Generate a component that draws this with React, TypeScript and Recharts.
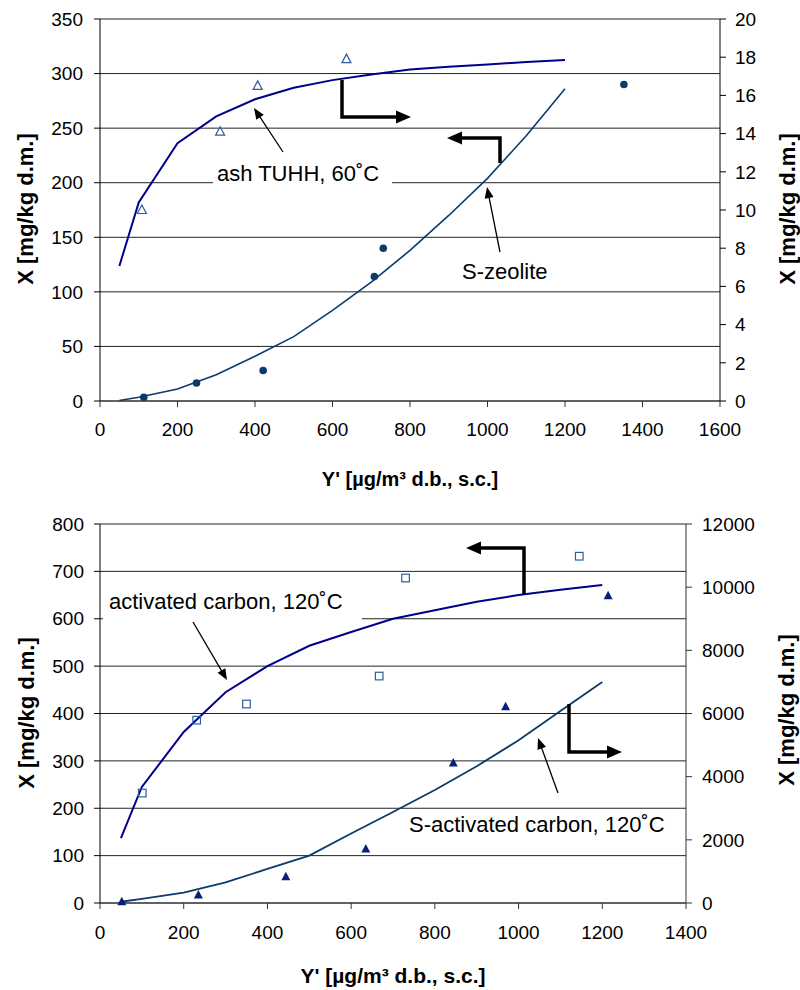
import { ComposedChart, Line, Scatter, XAxis, YAxis, CartesianGrid } from 'recharts'

const FONT = 'Liberation Sans, Arial, sans-serif'

// ---- top chart: ash TUHH 60°C (right axis), S-zeolite (left axis)
const fitX = [50, 100, 200, 300, 400, 500, 600, 700, 800, 900, 1000, 1100, 1200]
const ashFitY = [7.07, 10.4, 13.5, 14.9, 15.8, 16.4, 16.8, 17.1, 17.35, 17.5, 17.62, 17.75, 17.85]
const ashMeasX = [108, 310, 407, 636]
const ashMeasY = [10.0, 14.1, 16.5, 17.9]
const zeoFitY = [0.5, 3.5, 11, 24, 41, 59, 83, 109, 138, 170, 204, 243, 286]
const zeoMeasX = [113, 249, 421, 708, 731, 1352]
const zeoMeasY = [3.5, 16.5, 28, 114, 140, 290]

const topXTicks = [0, 200, 400, 600, 800, 1000, 1200, 1400, 1600]
const topLeftTicks = [0, 50, 100, 150, 200, 250, 300, 350]
const topRightTicks = [0, 2, 4, 6, 8, 10, 12, 14, 16, 18, 20]

// ---- bottom chart: activated carbon (left axis), S-activated carbon (right axis)
const acFitY = [137, 245, 361, 445, 500, 543, 572, 600, 618, 636, 650, 661, 671]
const acMeasX = [101, 231, 350, 667, 730, 1145]
const acMeasY = [232, 386, 420, 479, 686, 732]
const sacFitY = [40, 130, 330, 650, 1080, 1500, 2200, 2880, 3580, 4330, 5150, 6080, 7000]
const sacMeasX = [52, 235, 444, 635, 844, 969, 1214]
const sacMeasY = [41, 253, 833, 1710, 4430, 6215, 9730]

const botXTicks = [0, 200, 400, 600, 800, 1000, 1200, 1400]
const botLeftTicks = [0, 100, 200, 300, 400, 500, 600, 700, 800]
const botRightTicks = [0, 2000, 4000, 6000, 8000, 10000, 12000]

const pts = (xs: number[], ys: number[]) => xs.map((x, i) => ({ x, y: ys[i] }))

const tickStyle = { fill: '#000', fontSize: 19, fontFamily: FONT }
const titleStyle = { fontSize: 22, fontWeight: 700, fontFamily: FONT }
const noteStyle = { fontSize: 22, fontFamily: FONT }

const OpenTriangle = (p: any) => (
  <path
    d={`M${p.cx},${p.cy - 5} L${p.cx + 4.5},${p.cy + 3.5} L${p.cx - 4.5},${p.cy + 3.5} Z`}
    fill="none"
    stroke="#2a5f9e"
    strokeWidth={1.2}
  />
)
const FilledTriangle = (p: any) => (
  <path
    d={`M${p.cx},${p.cy - 5} L${p.cx + 4.5},${p.cy + 3.5} L${p.cx - 4.5},${p.cy + 3.5} Z`}
    fill="#0a1f7a"
  />
)
const OpenSquare = (p: any) => (
  <rect x={p.cx - 3.8} y={p.cy - 3.8} width={7.6} height={7.6} fill="none" stroke="#2a5f9e" strokeWidth={1.2} />
)
const Dot = (p: any) => <circle cx={p.cx} cy={p.cy} r={3.8} fill="#0b3a6b" />

// arrow head polygon pointing from (x1,y1) to tip (x2,y2)
function head(x1: number, y1: number, x2: number, y2: number, len: number, w: number) {
  const d = Math.hypot(x2 - x1, y2 - y1)
  const ux = (x2 - x1) / d
  const uy = (y2 - y1) / d
  const bx = x2 - ux * len
  const by = y2 - uy * len
  return `${x2},${y2} ${bx - uy * w / 2},${by + ux * w / 2} ${bx + uy * w / 2},${by - ux * w / 2}`
}

function ThinArrow({ x1, y1, x2, y2 }: { x1: number; y1: number; x2: number; y2: number }) {
  const d = Math.hypot(x2 - x1, y2 - y1)
  const ex = x2 - ((x2 - x1) / d) * 8
  const ey = y2 - ((y2 - y1) / d) * 8
  return (
    <g>
      <line x1={x1} y1={y1} x2={ex} y2={ey} stroke="#000" strokeWidth={1.3} />
      <polygon points={head(x1, y1, x2, y2, 11, 9)} fill="#000" />
    </g>
  )
}

function BentArrow({ p }: { p: number[][] }) {
  const n = p.length
  const [x1, y1] = p[n - 2]
  const [x2, y2] = p[n - 1]
  const d = Math.hypot(x2 - x1, y2 - y1)
  const last = [x2 - ((x2 - x1) / d) * 12, y2 - ((y2 - y1) / d) * 12]
  const line = [...p.slice(0, n - 1), last].map((q) => q.join(',')).join(' ')
  return (
    <g>
      <polyline points={line} fill="none" stroke="#000" strokeWidth={3.5} />
      <polygon points={head(x1, y1, x2, y2, 15, 13)} fill="#000" />
    </g>
  )
}

function TopChart() {
  return (
    <ComposedChart width={800} height={500} margin={{ top: 19, right: 0, bottom: 0, left: 0 }}>
      <CartesianGrid yAxisId="left" vertical={false} stroke="#222" />
      <XAxis
        type="number"
        dataKey="x"
        domain={[0, 1600]}
        ticks={topXTicks}
        height={99}
        tick={tickStyle}
        tickSize={6}
        tickMargin={16}
        stroke="#333"
      />
      <YAxis
        yAxisId="left"
        type="number"
        domain={[0, 350]}
        ticks={topLeftTicks}
        width={100}
        tick={tickStyle}
        tickSize={6}
        tickMargin={11}
        stroke="#000"
      />
      <YAxis
        yAxisId="right"
        orientation="right"
        type="number"
        domain={[0, 20]}
        ticks={topRightTicks}
        width={80}
        tick={tickStyle}
        tickSize={6}
        tickMargin={9}
        stroke="#000"
      />
      <Line
        yAxisId="right"
        data={pts(fitX, ashFitY)}
        dataKey="y"
        stroke="#00008b"
        strokeWidth={2}
        dot={false}
        isAnimationActive={false}
      />
      <Line
        yAxisId="left"
        data={pts(fitX, zeoFitY)}
        dataKey="y"
        stroke="#0b3a6b"
        strokeWidth={1.6}
        dot={false}
        isAnimationActive={false}
      />
      <Scatter yAxisId="right" data={pts(ashMeasX, ashMeasY)} dataKey="y" shape={OpenTriangle} isAnimationActive={false} />
      <Scatter yAxisId="left" data={pts(zeoMeasX, zeoMeasY)} dataKey="y" shape={Dot} isAnimationActive={false} />
    </ComposedChart>
  )
}

function BottomChart() {
  return (
    <ComposedChart width={800} height={490} margin={{ top: 24, right: 0, bottom: 0, left: 0 }}>
      <CartesianGrid yAxisId="left" vertical={false} stroke="#222" />
      <XAxis
        type="number"
        dataKey="x"
        domain={[0, 1400]}
        ticks={botXTicks}
        height={87}
        tick={tickStyle}
        tickSize={6}
        tickMargin={17}
        stroke="#333"
      />
      <YAxis
        yAxisId="left"
        type="number"
        domain={[0, 800]}
        ticks={botLeftTicks}
        width={100}
        tick={tickStyle}
        tickSize={6}
        tickMargin={10}
        stroke="#000"
      />
      <YAxis
        yAxisId="right"
        orientation="right"
        type="number"
        domain={[0, 12000]}
        ticks={botRightTicks}
        width={114}
        tick={tickStyle}
        tickSize={6}
        tickMargin={10}
        stroke="#333"
      />
      <Line
        yAxisId="left"
        data={pts(fitX, acFitY)}
        dataKey="y"
        stroke="#00008b"
        strokeWidth={2}
        dot={false}
        isAnimationActive={false}
      />
      <Line
        yAxisId="right"
        data={pts(fitX, sacFitY)}
        dataKey="y"
        stroke="#0b3a6b"
        strokeWidth={1.8}
        dot={false}
        isAnimationActive={false}
      />
      <Scatter yAxisId="left" data={pts(acMeasX, acMeasY)} dataKey="y" shape={OpenSquare} isAnimationActive={false} />
      <Scatter yAxisId="right" data={pts(sacMeasX, sacMeasY)} dataKey="y" shape={FilledTriangle} isAnimationActive={false} />
    </ComposedChart>
  )
}

export default function App() {
  return (
    <div style={{ position: 'absolute', left: 0, top: 0, width: 800, height: 990, background: '#fff' }}>
      <div style={{ position: 'absolute', left: 0, top: 0 }}>
        <TopChart />
      </div>
      <div style={{ position: 'absolute', left: 0, top: 500 }}>
        <BottomChart />
      </div>
      <svg width={800} height={990} style={{ position: 'absolute', left: 0, top: 0, pointerEvents: 'none' }}>
        {/* top chart notes */}
        <rect x={213} y={163} width={179} height={27} fill="#fff" />
        <text x={217} y={181} style={noteStyle}>ash TUHH, 60˚C</text>
        <ThinArrow x1={283} y1={152} x2={254} y2={108} />
        <text x={462} y={279} style={noteStyle}>S-zeolite</text>
        <ThinArrow x1={500} y1={252} x2={487} y2={187} />
        <BentArrow p={[[342, 80], [342, 117], [411, 117]]} />
        <BentArrow p={[[500, 163], [500, 138], [447, 138]]} />
        <text x={410} y={486} textAnchor="middle" style={{ ...titleStyle, fontSize: 20 }}>Y' [µg/m³ d.b., s.c.]</text>
        <text transform="translate(33,209) rotate(-90)" textAnchor="middle" style={titleStyle}>X [mg/kg d.m.]</text>
        <text transform="translate(795,209) rotate(-90)" textAnchor="middle" style={titleStyle}>X [mg/kg d.m.]</text>

        {/* bottom chart notes */}
        <rect x={103} y={587} width={259} height={34} fill="#fff" />
        <text x={109} y={609} style={noteStyle}>activated carbon, 120˚C</text>
        <ThinArrow x1={193} y1={622} x2={227} y2={680} />
        <text x={409} y={832} style={noteStyle}>S-activated carbon, 120˚C</text>
        <ThinArrow x1={558} y1={793} x2={538} y2={738} />
        <BentArrow p={[[524, 594], [524, 548], [466, 548]]} />
        <BentArrow p={[[569, 704], [569, 752], [622, 752]]} />
        <text x={393} y={983} textAnchor="middle" style={{ ...titleStyle, fontSize: 21 }}>Y' [µg/m³ d.b., s.c.]</text>
        <text transform="translate(34,713) rotate(-90)" textAnchor="middle" style={titleStyle}>X [mg/kg d.m.]</text>
        <text transform="translate(794,710) rotate(-90)" textAnchor="middle" style={titleStyle}>X [mg/kg d.m.]</text>
      </svg>
    </div>
  )
}
